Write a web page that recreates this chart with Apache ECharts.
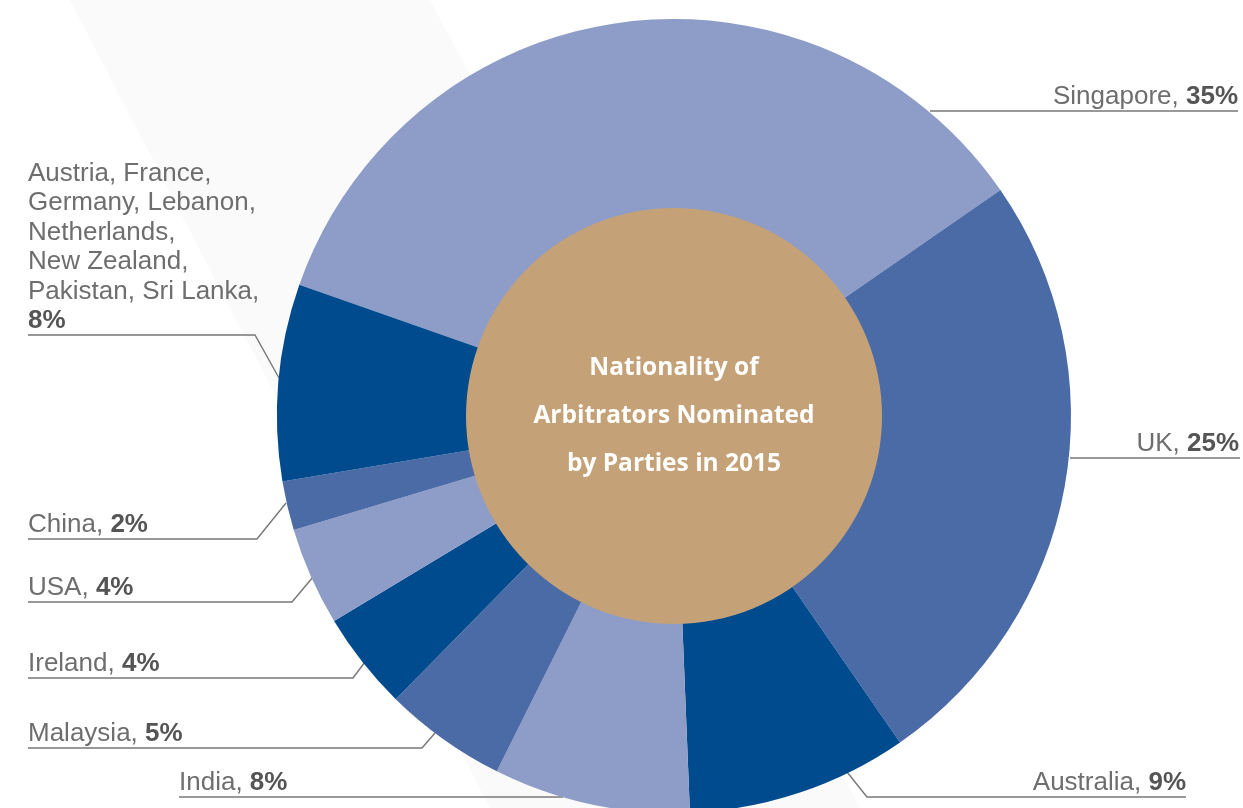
<!DOCTYPE html>
<html>
<head>
<meta charset="utf-8">
<script src="https://cdn.jsdelivr.net/npm/echarts@6/dist/echarts.min.js"></script>
<style>
html,body{margin:0;padding:0;background:#fff;}
#chart{width:1243px;height:808px;}
</style>
</head>
<body>
<div id="chart"></div>
<script>
// ---- data ----
const categories = ['Singapore', 'UK', 'Australia', 'India', 'Malaysia', 'Ireland', 'USA', 'China',
  'Austria, France,\nGermany, Lebanon,\nNetherlands,\nNew Zealand,\nPakistan, Sri Lanka,'];
const values = [35, 25, 9, 8, 5, 4, 4, 2, 8];
const centerTitle = 'Nationality of\nArbitrators Nominated\nby Parties in 2015';

// ---- styles ----
const light = '#8E9DC7', mid = '#4B6BA7', dark = '#004A8E';
const sliceColors = [light, mid, dark, light, mid, dark, light, mid, dark];

// label leader geometry (pixel layout, not data): [ringPt, elbowPt, endPt], text anchor
const leaders = [
  {pts: [[930,111],[930,111],[1238,111]], tx: 1238, align: 'right'},
  {pts: [[1070,458],[1070,458],[1240,458]], tx: 1239, align: 'right'},
  {pts: [[847,772],[867,797],[1186,797]], tx: 1186, align: 'right'},
  {pts: [[563,797],[563,797],[179,797]], tx: 179, align: 'left'},
  {pts: [[435,733],[422,748],[28,748]], tx: 28, align: 'left'},
  {pts: [[365,662],[353,678],[28,678]], tx: 28, align: 'left'},
  {pts: [[313,577],[292,602],[28,602]], tx: 28, align: 'left'},
  {pts: [[286,503],[257,539],[28,539]], tx: 28, align: 'left'},
  {pts: [[279,378],[255,335],[28,335]], tx: 28, align: 'left'}
];

const chart = echarts.init(document.getElementById('chart'), null, {renderer: 'canvas'});
const labelFont = 'Liberation Sans';

chart.setOption({
  backgroundColor: '#ffffff',
  animation: false,
  graphic: [{
    type: 'polygon', z: -10, silent: true,
    shape: {points: [[70,0],[430,0],[860,808],[490,808]]},
    style: {fill: '#FAFAFA'}
  }],
  series: [
    {
      type: 'pie',
      center: [674, 416],
      radius: [206, 397],
      startAngle: 160.7,
      clockwise: true,
      avoidLabelOverlap: false,
      silent: true,
      data: categories.map((c, i) => ({name: c, value: values[i], itemStyle: {color: sliceColors[i]}})),
      label: {
        show: true,
        position: 'outside',
        formatter: p => {
          const lines = p.name.split('\n');
          if (lines.length > 1) {
            return lines.map(l => '{n|' + l + '}').join('\n') + '\n{b|' + p.value + '%}';
          }
          return '{n|' + p.name + ', }{b|' + p.value + '%}';
        },
        rich: {
          n: {fontFamily: labelFont, fontSize: 26, color: '#6E6E6E', lineHeight: 29.5},
          b: {fontFamily: labelFont, fontSize: 26, fontWeight: 'bold', color: '#555555', lineHeight: 29.5}
        }
      },
      labelLine: {show: true, smooth: false, length: 10, length2: 10,
        lineStyle: {color: '#777777', width: 1.4}},
      labelLayout: params => {
        const L = leaders[params.dataIndex];
        return {
          x: L.tx,
          y: L.pts[2][1] + 1,
          align: L.align,
          verticalAlign: 'bottom',
          labelLinePoints: L.pts
        };
      }
    },
    {
      type: 'pie',
      center: [674, 416],
      radius: [0, 208],
      silent: true,
      z: 3,
      data: [{name: centerTitle, value: 1, itemStyle: {color: '#C4A176'}}],
      label: {
        show: true,
        position: 'center',
        formatter: '{b}',
        fontFamily: 'Open Sans',
        fontWeight: 'bold',
        fontSize: 24.5,
        lineHeight: 48,
        padding: [8, 0, 0, 0],
        color: '#ffffff'
      },
      labelLine: {show: false}
    }
  ]
});
</script>
</body>
</html>
